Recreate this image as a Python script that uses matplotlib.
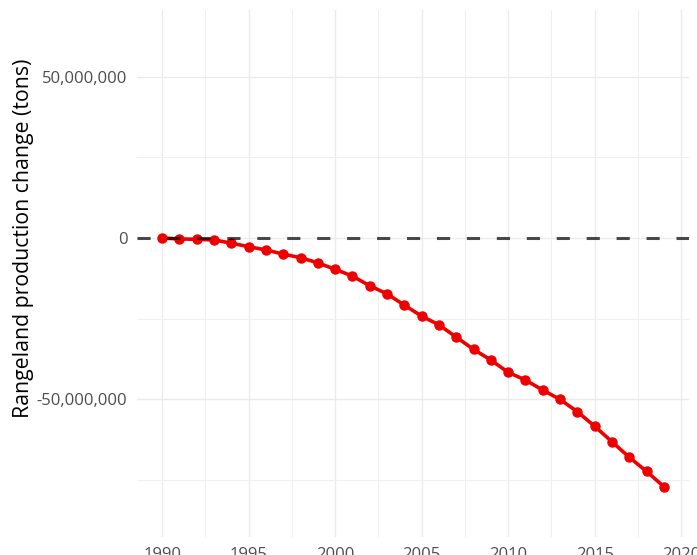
import matplotlib.pyplot as plt
import matplotlib.ticker as mticker
import numpy as np

plt.rcParams['font.family'] = ['Open Sans', 'DejaVu Sans']

years = list(range(1990, 2020))
change_mt = [0.0, -0.3, -0.4, -0.6, -1.6, -2.7, -3.7, -5.0, -6.1, -7.7,
             -9.7, -11.8, -14.8, -17.3, -20.8, -24.2, -26.9, -30.7, -34.5, -37.8,
             -41.6, -44.0, -47.1, -50.0, -53.8, -58.3, -63.1, -67.9, -72.3, -77.0]
change = np.array(change_mt) * 1e6

fig = plt.figure(figsize=(6.97, 5.55), dpi=100)
ax = fig.add_axes([0.1966, 0.0324, 0.7919, 0.9496])

ax.plot(years, change, color='#ee0000', linewidth=2.6, marker='o', markersize=6.5, zorder=3)
ax.axhline(0, color='black', alpha=0.7, linewidth=2.2, dashes=(4.3, 5.5), zorder=4)

ax.set_xlim(1988.55, 2020.45)
ax.set_ylim(-92.6e6, 70.6e6)
ax.set_xticks([1990, 1995, 2000, 2005, 2010, 2015, 2020])
ax.set_xticks(np.arange(1992.5, 2020, 5), minor=True)
ax.set_yticks([-50e6, 0, 50e6])
ax.set_yticks([-75e6, -25e6, 25e6], minor=True)
ax.yaxis.set_major_formatter(mticker.FuncFormatter(lambda v, p: f'{int(v):,}'))

ax.grid(which='major', color='#ebebeb', linewidth=1.0)
ax.grid(which='minor', color='#efefef', linewidth=0.7)
ax.set_axisbelow(True)
for s in ax.spines.values():
    s.set_visible(False)
ax.tick_params(which='both', length=0)
ax.tick_params(axis='both', labelsize=12, labelcolor='#4d4d4d')
ax.tick_params(axis='y', pad=7)
ax.tick_params(axis='x', pad=7.5)
ax.set_ylabel('Rangeland production change (tons)', fontsize=15.3, color='black')
ax.yaxis.set_label_coords(-0.187, 0.567)

fig.savefig('out.png', dpi=100)
